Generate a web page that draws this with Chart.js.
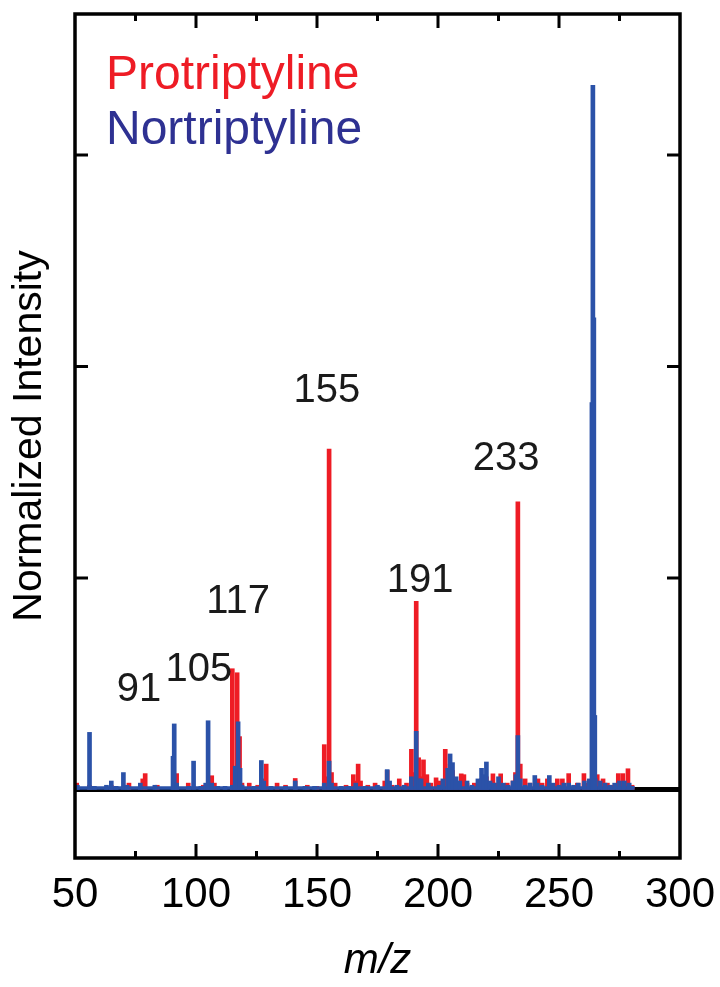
<!DOCTYPE html>
<html>
<head>
<meta charset="utf-8">
<script src="https://cdn.jsdelivr.net/npm/chart.js@4"></script>
<style>
  html, body { margin: 0; padding: 0; background: #ffffff; }
  canvas { display: block; }
</style>
</head>
<body>
<canvas id="ms" width="720" height="987"></canvas>
<script>
// Protriptyline MS/MS spectrum: peak m/z and normalized intensity
const protMz = [50.7, 56, 65, 72.3, 78, 79, 84, 91, 92, 96.8, 103, 105.3, 106.5, 107.6,
  115, 116, 117, 118, 119, 122, 125.5, 128, 129, 133.5, 137, 141, 146, 150,
  153, 154, 155, 156, 157.5, 162, 165, 166, 167, 168, 171, 174, 178, 179, 181, 184, 187,
  189, 190, 191, 192, 193, 194, 195.4, 197, 199.2, 200.7, 203, 204, 205, 206, 207.5,
  209.6, 210.7, 212, 215, 218, 220, 222.7, 224, 225.9, 228.6, 231, 232, 233, 234, 236,
  238, 241.3, 243, 245.2, 247, 249.3, 251.4, 254, 257.6, 260.3, 262, 264, 265.8, 268.2,
  270, 272, 274.5, 276.4, 278.5, 280.2];
const protInt = [0.03, 0.02, 0.02, 0.03, 0.05, 0.075, 0.02, 0.06, 0.075, 0.03, 0.02, 0.03, 0.065, 0.03,
  0.571, 0.1, 0.552, 0.25, 0.03, 0.03, 0.02, 0.05, 0.12, 0.03, 0.02, 0.052, 0.02, 0.015,
  0.212, 0.06, 1.61, 0.08, 0.03, 0.02, 0.07, 0.04, 0.12, 0.04, 0.02, 0.03, 0.04, 0.09, 0.02, 0.05, 0.03,
  0.19, 0.08, 0.89, 0.15, 0.06, 0.14, 0.07, 0.03, 0.055, 0.04, 0.19, 0.1, 0.12, 0.09, 0.04,
  0.074, 0.07, 0.03, 0.03, 0.05, 0.06, 0.074, 0.03, 0.074, 0.03, 0.04, 0.08, 1.36, 0.12, 0.05,
  0.03, 0.05, 0.03, 0.05, 0.02, 0.05, 0.05, 0.075, 0.03, 0.075, 0.03, 0.02, 0.07, 0.05,
  0.03, 0.02, 0.075, 0.075, 0.098, 0.02];

// Nortriptyline MS/MS spectrum
const nortMz = [51, 56, 58, 63, 65, 67, 70, 71.5, 77, 83, 90.5, 91, 92, 97, 99, 102, 104, 105,
  106.5, 109, 112, 115, 116.2, 117.4, 118.2, 119, 124, 127, 128, 131, 137, 141, 145, 149,
  153, 155, 156, 160, 163, 166, 170, 175, 179, 180, 183, 186, 189, 191, 192, 193, 196,
  200.5, 202, 204, 205, 206, 207.5, 209, 212, 214, 216.5, 218, 219, 220, 221.5, 223, 225,
  227, 229, 231, 232.2, 233, 234, 236, 238, 240, 241, 243, 246, 247.5, 250, 252, 254, 256,
  258, 260.5, 262.5, 263.6, 264, 264.4, 264.8, 265, 267, 269, 271, 273, 275, 277, 279, 280.3];
const nortInt = [0.02, 0.27, 0.015, 0.02, 0.04, 0.015, 0.08, 0.02, 0.03, 0.02, 0.157, 0.31, 0.03, 0.015, 0.134, 0.015, 0.03, 0.325,
  0.03, 0.015, 0.015, 0.02, 0.11, 0.32, 0.1, 0.02, 0.015, 0.137, 0.04, 0.015, 0.015, 0.04, 0.015, 0.015,
  0.03, 0.134, 0.03, 0.015, 0.015, 0.03, 0.015, 0.02, 0.094, 0.04, 0.02, 0.02, 0.06, 0.275, 0.05, 0.05, 0.03,
  0.02, 0.05, 0.1, 0.168, 0.127, 0.06, 0.04, 0.04, 0.02, 0.05, 0.1, 0.07, 0.13, 0.04, 0.03, 0.06,
  0.03, 0.02, 0.04, 0.07, 0.255, 0.05, 0.02, 0.03, 0.066, 0.03, 0.02, 0.066, 0.03, 0.02, 0.03, 0.03, 0.02,
  0.03, 0.04, 0.05, 1.83, 3.33, 2.23, 0.35, 0.05, 0.04, 0.03, 0.02, 0.03, 0.04, 0.04, 0.03, 0.015];

// Noise floor of the recorded range
const noiseMz = [50, 280.3];
const noiseInt = [0.007, 0.007];

// Annotated fragment ions and where their captions sit (m/z, intensity)
const peakLabels = [91, 105, 117, 155, 191, 233];
const labelAtMz = [76.4, 101.2, 117.4, 154.1, 192.6, 228.1];
const labelAtInt = [0.418, 0.513, 0.835, 1.832, 0.934, 1.511];

// Axis tick values
const xTickValues = [50, 100, 150, 200, 250, 300];
const xMinorTicks = [75, 125, 175, 225, 275];
const yTickValues = [1, 2, 3];

const RED = '#ee1c25';
const BLUE = '#2b52a8';
const NAVY = '#2e3192';
const FONT = '"Liberation Sans", Arial, Helvetica, sans-serif';

const toPoints = (xs, ys) => xs.map((x, i) => ({ x: x, y: ys[i] }));

const framePlugin = {
  id: 'framePlugin',
  beforeDatasetsDraw(chart) {
    const { ctx, chartArea: a, scales: { y } } = chart;
    const y0 = y.getPixelForValue(0);
    ctx.save();
    ctx.strokeStyle = '#000';
    ctx.lineWidth = 5;
    ctx.beginPath();
    ctx.moveTo(a.left, y0);
    ctx.lineTo(a.right, y0);
    ctx.stroke();
    ctx.restore();
  },
  afterDatasetsDraw(chart) {
    const { ctx, chartArea: a, scales: { x, y } } = chart;
    ctx.save();
    ctx.strokeStyle = '#000';
    ctx.lineWidth = 3.5;
    ctx.strokeRect(a.left, a.top, a.right - a.left, a.bottom - a.top);

    ctx.lineWidth = 3;
    ctx.beginPath();
    xTickValues.slice(1, -1).forEach(v => {
      const px = x.getPixelForValue(v);
      ctx.moveTo(px, a.top); ctx.lineTo(px, a.top + 14);
      ctx.moveTo(px, a.bottom); ctx.lineTo(px, a.bottom - 14);
    });
    xMinorTicks.forEach(v => {
      const px = x.getPixelForValue(v);
      ctx.moveTo(px, a.top); ctx.lineTo(px, a.top + 7);
      ctx.moveTo(px, a.bottom); ctx.lineTo(px, a.bottom - 7);
    });
    yTickValues.forEach(v => {
      const py = y.getPixelForValue(v);
      ctx.moveTo(a.left, py); ctx.lineTo(a.left + 13, py);
      ctx.moveTo(a.right, py); ctx.lineTo(a.right - 13, py);
    });
    ctx.stroke();

    // series names in their colours
    ctx.font = '48px ' + FONT;
    ctx.textAlign = 'left';
    ctx.textBaseline = 'alphabetic';
    ctx.fillStyle = RED;
    ctx.fillText(chart.data.datasets[2].label, a.left + 31, a.top + 75);
    ctx.fillStyle = NAVY;
    ctx.fillText(chart.data.datasets[0].label, a.left + 31, a.top + 130);

    // fragment captions
    ctx.font = '40px ' + FONT;
    ctx.textAlign = 'center';
    ctx.fillStyle = '#1a1a1a';
    peakLabels.forEach((t, i) => {
      ctx.fillText(String(t), x.getPixelForValue(labelAtMz[i]), y.getPixelForValue(labelAtInt[i]));
    });
    ctx.restore();
  }
};

new Chart(document.getElementById('ms'), {
  type: 'bar',
  data: {
    datasets: [
      {
        label: 'Nortriptyline',
        data: toPoints(nortMz, nortInt),
        backgroundColor: BLUE,
        barThickness: 4,
        order: 0
      },
      {
        type: 'line',
        label: 'Nortriptyline baseline',
        data: toPoints(noiseMz, noiseInt),
        borderColor: BLUE,
        borderWidth: 3.5,
        pointRadius: 0,
        fill: false,
        order: 1
      },
      {
        label: 'Protriptyline',
        data: toPoints(protMz, protInt),
        backgroundColor: RED,
        barThickness: 4,
        order: 2
      }
    ]
  },
  options: {
    responsive: false,
    animation: false,
    devicePixelRatio: 1,
    grouped: false,
    layout: { padding: { top: 14, right: 40, left: 0, bottom: 0 } },
    plugins: { legend: { display: false }, tooltip: { enabled: false } },
    scales: {
      x: {
        type: 'linear',
        offset: false,
        min: 50,
        max: 300,
        grid: { display: false, drawTicks: false, offset: false },
        border: { display: false },
        afterBuildTicks: s => { s.ticks = xTickValues.map(v => ({ value: v })); },
        afterFit: s => { s.height = 129; s.paddingLeft = 0; s.paddingRight = 0; },
        ticks: {
          color: '#000',
          padding: 12,
          maxRotation: 0,
          autoSkip: false,
          font: { family: FONT, size: 42 }
        },
        title: {
          display: true,
          text: 'm/z',
          color: '#000',
          padding: { top: 0, bottom: 0 },
          font: { family: FONT, size: 42, style: 'italic' }
        }
      },
      y: {
        type: 'linear',
        min: -0.324,
        max: 3.667,
        grid: { display: false, drawTicks: false },
        border: { display: false },
        ticks: { display: false },
        afterFit: s => { s.width = 75; s.paddingTop = 0; s.paddingBottom = 0; },
        title: {
          display: true,
          text: 'Normalized Intensity',
          color: '#000',
          padding: { top: 5, bottom: 0 },
          font: { family: FONT, size: 41 }
        }
      }
    }
  },
  plugins: [framePlugin]
});
</script>
</body>
</html>
